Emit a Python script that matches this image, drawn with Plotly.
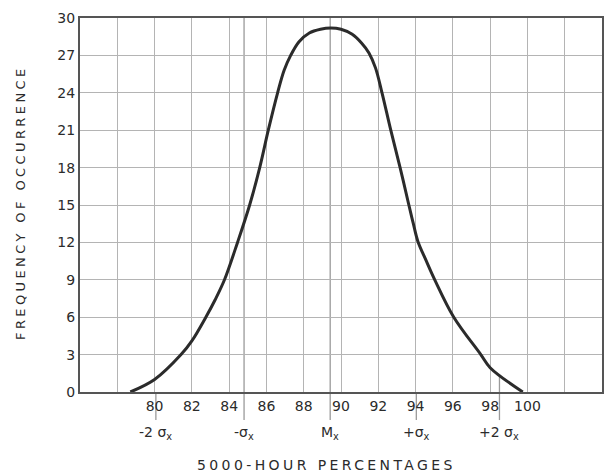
import plotly.graph_objects as go

# ---- data ----
curve_x = [78.7, 80.0, 81.42, 82.0, 82.75, 83.25, 83.75, 84.45, 85.1, 85.64, 86.1, 86.6,
           86.95, 87.3, 87.75, 88.3, 88.9, 89.45, 90.0, 90.6, 91.1, 91.5, 91.85, 92.2,
           92.67, 93.17, 93.64, 93.88, 94.12, 94.55, 95.03, 96.05, 97.5, 98.0, 99.75]
curve_y = [0, 1.0, 3.0, 4.1, 6.0, 7.4, 9.0, 12.0, 15.0, 18.0, 21.0, 24.0,
           25.8, 27.0, 28.1, 28.8, 29.1, 29.2, 29.1, 28.7, 28.0, 27.2, 26.0, 24.0,
           21.0, 18.0, 15.0, 13.5, 12.1, 10.6, 9.0, 6.0, 3.0, 1.95, 0]

x_tick_values = [78, 80, 82, 84, 86, 88, 90, 92, 94, 96, 98, 100, 102]
x_tick_labels = ["", "80", "82", "84", "86", "88", "90", "92", "94", "96", "98", "100", ""]
y_tick_values = [0, 3, 6, 9, 12, 15, 18, 21, 24, 27, 30]

sigma_positions = [80.07, 84.8, 89.42, 94.04, 98.5]
sigma_labels = ["-2 σ<sub>x</sub>", "-σ<sub>x</sub>", "M<sub>x</sub>", "+σ<sub>x</sub>", "+2 σ<sub>x</sub>"]
sigma_line_tops = [0.0, 1.0, 1.0, 0.0, 0.04]  # paper fraction where each marker line stops

x_title = "5000-HOUR PERCENTAGES"
y_title = "FREQUENCY OF OCCURRENCE"

FONT = "DejaVu Sans"
INK = "#2b2b2b"

fig = go.Figure()
fig.add_trace(go.Scatter(
    x=curve_x, y=curve_y, mode="lines",
    line=dict(color=INK, width=3, shape="spline", smoothing=1.0),
    hoverinfo="skip", showlegend=False,
))

for xv, top in zip(sigma_positions, sigma_line_tops):
    fig.add_shape(type="line", xref="x", yref="paper", x0=xv, x1=xv, y0=-0.075, y1=top,
                  line=dict(color="#9a9a9a", width=1.3), layer="below")

for xv, lab in zip(sigma_positions, sigma_labels):
    fig.add_annotation(x=xv, y=-0.08, xref="x", yref="paper", text=lab, showarrow=False,
                       xanchor="center", yanchor="top",
                       font=dict(family=FONT, size=14, color=INK))

fig.add_annotation(x=0.473, y=-0.168, xref="paper", yref="paper",
                   text=f'<span style="letter-spacing:3.4px">{x_title}</span>', showarrow=False,
                   xanchor="center", yanchor="top",
                   font=dict(family=FONT, size=14, color=INK))
fig.add_annotation(x=-0.115, y=0.508, xref="paper", yref="paper",
                   text=f'<span style="letter-spacing:3.4px">{y_title}</span>', showarrow=False,
                   textangle=-90, xanchor="center", yanchor="middle",
                   font=dict(family=FONT, size=13, color=INK))

fig.update_layout(
    width=612, height=475,
    margin=dict(l=80, r=8, t=18, b=83),
    paper_bgcolor="white", plot_bgcolor="white",
    font=dict(family=FONT, size=14, color=INK),
    xaxis=dict(range=[76, 104], tickmode="array", tickvals=x_tick_values, ticktext=x_tick_labels,
               showgrid=True, gridcolor="#b4b4b4", gridwidth=1.3, zeroline=False,
               showline=True, linecolor="#555555", linewidth=2, mirror=True,
               ticks="", tickfont=dict(family=FONT, size=14, color=INK)),
    yaxis=dict(range=[0, 30], tickmode="array", tickvals=y_tick_values,
               showgrid=True, gridcolor="#b4b4b4", gridwidth=1.3, zeroline=False,
               showline=True, linecolor="#555555", linewidth=2, mirror=True,
               ticks="", tickfont=dict(family=FONT, size=14, color=INK)),
)

fig.write_html("out.html", config={"displayModeBar": False},
               post_script="document.body.style.margin='0';")
